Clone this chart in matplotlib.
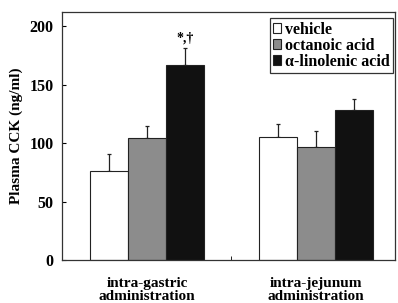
import matplotlib
matplotlib.use("Agg")
import matplotlib.pyplot as plt
import numpy as np

groups = ["intra-gastric\nadministration", "intra-jejunum\nadministration"]
series = ["vehicle", "octanoic acid", "α-linolenic acid"]
means = {
    "vehicle": [76, 105],
    "octanoic acid": [104, 97],
    "α-linolenic acid": [167, 128],
}
errs = {
    "vehicle": [15, 11],
    "octanoic acid": [11, 13],
    "α-linolenic acid": [14, 10],
}
colors = ["#ffffff", "#8c8c8c", "#111111"]
yticks = [0, 50, 100, 150, 200]

plt.rcParams['font.family'] = ['Liberation Serif', 'DejaVu Serif']
plt.rcParams['font.weight'] = 'bold'

fig = plt.figure(figsize=(3.98, 3.03), dpi=100)
ax = fig.add_axes([0.156, 0.142, 0.836, 0.818])

x = np.arange(len(groups))
w = 0.225
for i, s in enumerate(series):
    xs = x + (i - 1) * w
    ax.bar(xs, means[s], width=w, color=colors[i], edgecolor="#222222",
           linewidth=0.8, label=s, zorder=2)
    ax.errorbar(xs, means[s], yerr=[np.zeros(len(xs)), errs[s]], fmt="none",
                ecolor="#222222", elinewidth=0.9, capsize=1.5, capthick=0.9, zorder=1)

ax.text(x[0] + w, means["α-linolenic acid"][0] + errs["α-linolenic acid"][0] + 3,
        "*,†", ha="center", va="bottom", fontsize=10, fontweight="bold")

ax.set_xlim(-0.503, 1.467)
ax.set_ylim(0, 212)
ax.set_yticks(yticks)
ax.set_yticklabels([str(t) for t in yticks], fontsize=11.5, fontweight="bold")
ax.set_xticks(x)
ax.set_xticklabels(groups, fontsize=11, fontweight="bold", linespacing=1.05)
ax.tick_params(axis="x", length=0, pad=12)
ax.set_xticks([0.5], minor=True)
ax.tick_params(axis="x", which="minor", direction="in", length=3)
ax.tick_params(axis="y", direction="in", length=3, pad=6)
ax.set_ylabel("Plasma CCK (ng/ml)", fontsize=11, fontweight="bold", labelpad=5)

for sp in ax.spines.values():
    sp.set_linewidth(0.9)
    sp.set_color("#333333")

leg = ax.legend(loc="upper right", bbox_to_anchor=(0.995, 0.975), fontsize=11.5,
                handlelength=0.5, handleheight=0.6, handletextpad=0.25,
                borderpad=0.2, labelspacing=0.0, fancybox=False,
                edgecolor="#333333", framealpha=1, borderaxespad=0)
leg.get_frame().set_linewidth(0.9)
for t in leg.get_texts():
    t.set_fontweight("bold")

fig.savefig("out.png", dpi=100)
